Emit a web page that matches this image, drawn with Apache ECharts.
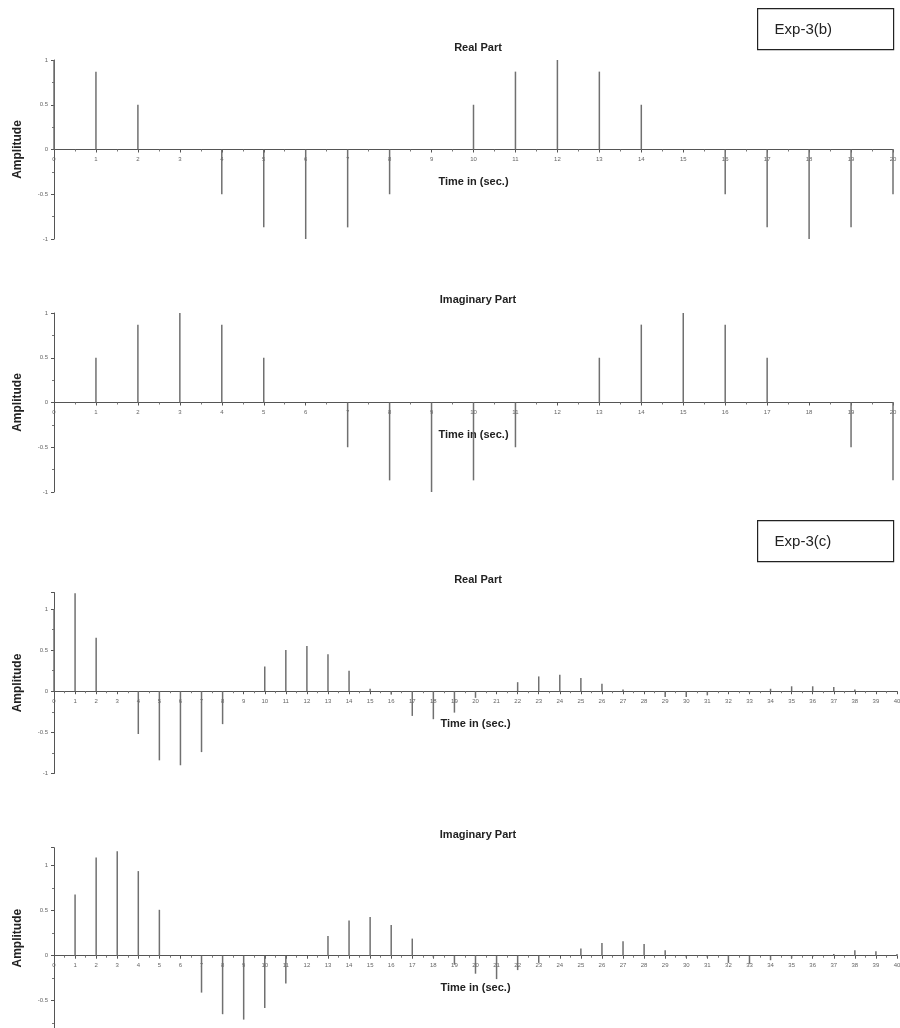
<!DOCTYPE html>
<html>
<head>
<meta charset="utf-8">
<script src="https://cdn.jsdelivr.net/npm/echarts@6/dist/echarts.min.js"></script>
<style>
html,body{margin:0;padding:0;background:#fff;}
#chart{width:900px;height:1028px;}
</style>
</head>
<body>
<div id="chart"></div>
<script>
// ---- Data ----
const timeB = [0,1,2,3,4,5,6,7,8,9,10,11,12,13,14,15,16,17,18,19,20];
const realB = [1, 0.87, 0.5, 0, -0.5, -0.87, -1, -0.87, -0.5, 0, 0.5, 0.87, 1, 0.87, 0.5, 0, -0.5, -0.87, -1, -0.87, -0.5];
const imagB = [0, 0.5, 0.87, 1, 0.87, 0.5, 0, -0.5, -0.87, -1, -0.87, -0.5, 0, 0.5, 0.87, 1, 0.87, 0.5, 0, -0.5, -0.87];

const timeC = [0,1,2,3,4,5,6,7,8,9,10,11,12,13,14,15,16,17,18,19,20,21,22,23,24,25,26,27,28,29,30,31,32,33,34,35,36,37,38,39,40];
const realC = [1, 1.19, 0.65, 0, -0.52, -0.84, -0.90, -0.74, -0.40, 0, 0.30, 0.50, 0.55, 0.45, 0.25, 0.03, -0.04, -0.30, -0.34, -0.26, -0.08, 0, 0.11, 0.18, 0.20, 0.16, 0.09, 0.02, 0, -0.07, -0.07, -0.05, -0.01, -0.02, 0.03, 0.06, 0.06, 0.05, 0.02, 0, 0];
const imagC = [0, 0.68, 1.09, 1.16, 0.94, 0.51, 0, -0.41, -0.65, -0.71, -0.58, -0.31, 0, 0.22, 0.39, 0.43, 0.34, 0.19, -0.02, -0.10, -0.20, -0.26, -0.16, -0.08, 0, 0.08, 0.14, 0.16, 0.13, 0.06, -0.02, -0.02, -0.08, -0.09, -0.05, -0.03, -0.01, 0.02, 0.06, 0.05, 0.02];

const panelTitles = ['Real Part', 'Imaginary Part', 'Real Part', 'Imaginary Part'];
const boxLabels = ['Exp-3(b)', 'Exp-3(c)'];
const xName = 'Time in (sec.)';
const yName = 'Amplitude';

// ---- Layout ----
const panels = [
  {top: 60,    height: 179, right: 7, xmax: 20, ymin: -1, ymax: 1,   t: timeB, v: realB, titleTop: 37},
  {top: 313,   height: 179, right: 7, xmax: 20, ymin: -1, ymax: 1,   t: timeB, v: imagB, titleTop: 289},
  {top: 592.5, height: 181, right: 3, xmax: 40, ymin: -1, ymax: 1.2, t: timeC, v: realC, titleTop: 569},
  {top: 847.7, height: 198, right: 3, xmax: 40, ymin: -1, ymax: 1.2, t: timeC, v: imagC, titleTop: 824, namePad: 17}
];

const font = 'Liberation Sans, Arial, sans-serif';
const grids = [], xAxes = [], yAxes = [], series = [], titles = [];
panels.forEach((p, i) => {
  grids.push({left: 54, right: p.right, top: p.top, height: p.height, containLabel: false, outerBoundsMode: 'none'});
  // place the x axis on the zero line (distance from grid bottom)
  const zeroOffset = -(0 - p.ymin) / (p.ymax - p.ymin) * p.height;
  xAxes.push({
    type: 'value', gridIndex: i, min: 0, max: p.xmax, interval: 1,
    position: 'bottom', offset: zeroOffset,
    name: xName, nameLocation: 'middle', nameGap: 27,
    nameTextStyle: {fontFamily: font, fontWeight: 'bold', fontSize: 11, color: '#222'},
    axisLine: {onZero: false, lineStyle: {color: '#555', width: 1}},
    axisTick: {show: true, length: 3, lineStyle: {color: '#555'}},
    minorTick: {show: true, splitNumber: 2, length: 2, lineStyle: {color: '#777'}},
    axisLabel: {fontFamily: font, fontSize: 6, color: '#666', margin: 7},
    splitLine: {show: false}
  });
  yAxes.push({
    type: 'value', gridIndex: i, min: p.ymin, max: p.ymax, interval: 0.5,
    name: yName, nameLocation: 'middle', nameGap: 30, nameRotate: 90,
    nameTextStyle: {fontFamily: font, fontWeight: 'bold', fontSize: 12, color: '#222',
      padding: p.namePad ? [0, 0, 0, p.namePad] : 0},
    axisLine: {show: true, onZero: false, lineStyle: {color: '#555', width: 1}},
    axisTick: {show: true, length: 3, lineStyle: {color: '#555'}},
    minorTick: {show: true, splitNumber: 2, length: 2, lineStyle: {color: '#777'}},
    axisLabel: {fontFamily: font, fontSize: 6, color: '#666', margin: 6, showMaxLabel: p.ymax === 1},
    splitLine: {show: false}
  });
  series.push({
    type: 'bar', xAxisIndex: i, yAxisIndex: i, barWidth: 1.5,
    itemStyle: {color: '#707070'}, silent: true, animation: false,
    data: p.t.map((t, k) => [t, p.v[k]])
  });
  titles.push({
    text: panelTitles[i], left: 473, top: p.titleTop, textAlign: 'center',
    textStyle: {fontFamily: font, fontWeight: 'bold', fontSize: 11, color: '#222'}
  });
});

const boxes = [{y: 8, label: boxLabels[0]}, {y: 520, label: boxLabels[1]}];
const graphics = boxes.map(b => ({
  type: 'group', left: 757, top: b.y,
  children: [
    {type: 'rect', shape: {x: 0, y: 0, width: 136, height: 41},
     style: {fill: '#fff', stroke: '#222', lineWidth: 1.2}},
    {type: 'text', x: 17, y: 21, style: {text: b.label, font: '15px ' + font, fill: '#222', textVerticalAlign: 'middle', verticalAlign: 'middle'}}
  ]
}));

const chart = echarts.init(document.getElementById('chart'), null, {renderer: 'canvas'});
chart.setOption({
  animation: false,
  backgroundColor: '#fff',
  title: titles,
  grid: grids,
  xAxis: xAxes,
  yAxis: yAxes,
  series: series,
  graphic: graphics
});
</script>
</body>
</html>
